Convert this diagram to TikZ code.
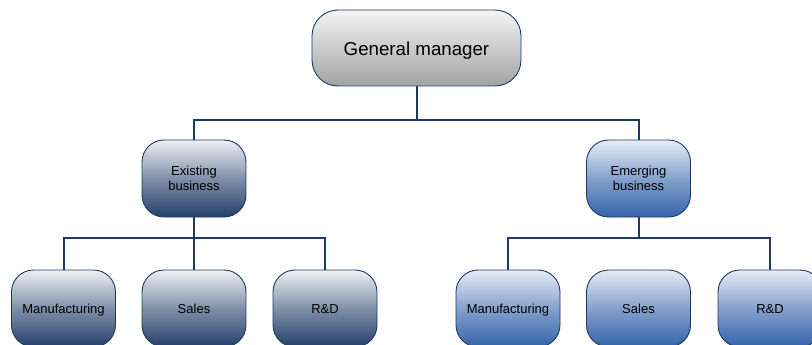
\documentclass[tikz,border=0pt]{standalone}
\usepackage{fontspec}
\setmainfont{Liberation Sans}
\definecolor{edge}{HTML}{1F3A62}
\definecolor{gmtop}{HTML}{F4F4F4}
\definecolor{gmbot}{HTML}{A2A2A2}
\definecolor{extop}{HTML}{EEF0F5}
\definecolor{exbot}{HTML}{26406A}
\definecolor{emtop}{HTML}{E6ECF6}
\definecolor{embot}{HTML}{3563AA}
\tikzset{
  box/.style={draw=edge, line width=0.9pt, rounded corners=22pt, inner sep=0pt,
    minimum width=104pt, minimum height=77pt, font=\fontsize{13}{15}\selectfont,
    text height=11.3pt, text depth=0.7pt},
  twoline/.style={align=center, text height=, text depth=},
  gmbox/.style={box, rounded corners=26pt, minimum width=209pt, minimum height=76pt,
    top color=gmtop, bottom color=gmbot, font=\fontsize{18.7}{22}\selectfont,
    text height=16.4pt, text depth=0.9pt},
  exbox/.style={box, top color=extop, bottom color=exbot, middle color=extop!45!exbot},
  embox/.style={box, top color=emtop, bottom color=embot, middle color=emtop!45!embot},
  link/.style={draw=edge, line width=2pt}
}
\begin{document}
\begin{tikzpicture}[x=1pt,y=-1pt]
\useasboundingbox (0,0) rectangle (812,345);
\clip (0,0) rectangle (812,345);
\fill[white] (0,0) rectangle (812,345);
\node[gmbox] (gm) at (416.5,48) {General manager};
\node[exbox, twoline] (xb) at (194,178.5) {Existing\\business};
\node[embox, twoline] (eb) at (638.5,178.5) {Emerging\\business};
\node[exbox] (lm) at (63.5,308.5) {Manufacturing};
\node[exbox] (ls) at (194,308.5) {Sales};
\node[exbox] (lr) at (325,308.5) {R\&D};
\node[embox] (rm) at (508,308.5) {Manufacturing};
\node[embox] (rs) at (638.5,308.5) {Sales};
\node[embox] (rr) at (770,308.5) {R\&D};
\draw[link] (gm.south) -- ++(0,34) -| (xb.north);
\draw[link] (gm.south) ++(0,34) -| (eb.north);
\draw[link] (xb.south) -- (ls.north);
\draw[link] (xb.south) ++(0,21) -| (lm.north);
\draw[link] (xb.south) ++(0,21) -| (lr.north);
\draw[link] (eb.south) -- ++(0,21) -| (rm.north);
\draw[link] (eb.south) ++(0,21) -| (rr.north);
\end{tikzpicture}
\end{document}
